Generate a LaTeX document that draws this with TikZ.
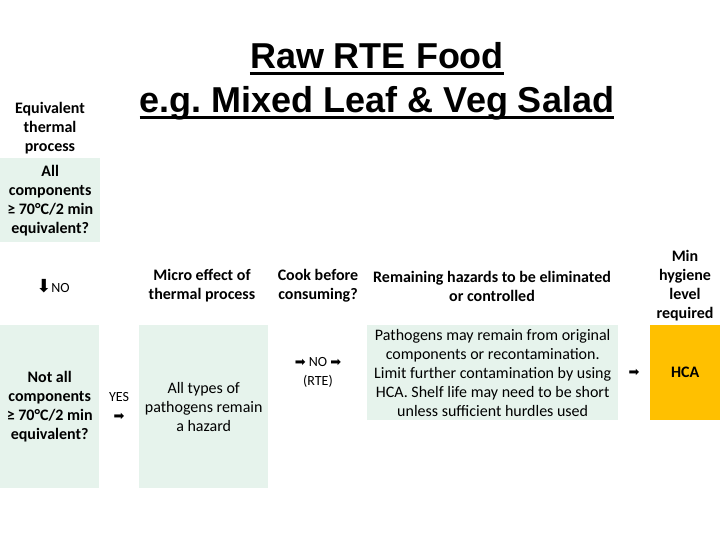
\documentclass[tikz,border=0pt]{standalone}
\usepackage{fontspec}
\setmainfont{Carlito}
\newfontfamily\titlefont{Liberation Sans}
\newfontfamily\symfont{DejaVu Sans}
\definecolor{boxgreen}{RGB}{230,243,236}
\definecolor{hcaorange}{RGB}{255,192,0}
\newcommand{\rarr}{{\symfont\fontsize{13}{13}\selectfont ➡}}
\frenchspacing
\begin{document}
\begin{tikzpicture}[x=1pt,y=-1pt,
  lbl/.style={font=\fontsize{16}{19}\selectfont\bfseries, align=center, inner sep=0pt},
  txt/.style={font=\fontsize{16}{19}\selectfont, align=center, inner sep=0pt},
  small/.style={font=\fontsize{14}{19}\selectfont, align=center, inner sep=0pt},
  title/.style={font=\titlefont\bfseries\fontsize{36}{45}\selectfont, inner sep=0pt, anchor=base},
  box/.style={fill=boxgreen, draw=none, inner sep=0pt, anchor=north west, align=center},
  ul/.style={line width=2.6pt}
]
\useasboundingbox (0,0) rectangle (720,540);

% title
\node[title] (t1) at (377,69) {Raw RTE Food};
\node[title] (t2) at (377,113) {e.g. Mixed Leaf \& Veg Salad};
\draw[ul] ([yshift=-4.5pt]t1.base west) -- ([yshift=-4.5pt]t1.base east);
\draw[ul] ([yshift=-4.5pt]t2.base west) -- ([yshift=-4.5pt]t2.base east);

% headers
\node[lbl] (eq) at (50,128) {Equivalent\\thermal\\process};
\node[box, minimum width=100, minimum height=84, font=\fontsize{16}{19}\selectfont\bfseries] (b1) at (0,158) {All\\components\\≥ 70°C/2 min\\equivalent?};
\node[small] (no1) at (53,286) {{\symfont\fontsize{18}{18}\selectfont ⬇}NO};
\node[lbl] (micro) at (202,286) {Micro effect of\\thermal process};
\node[lbl] (cook) at (318,286) {Cook before\\consuming?};
\node[lbl] (rem) at (492,286) {Remaining hazards to be eliminated\\or controlled};
\node[lbl] (min) at (685,286) {Min\\hygiene\\level\\required};

% row boxes
\node[box, minimum width=99, minimum height=163, font=\fontsize{16}{19}\selectfont\bfseries] (b2) at (0,325) {Not all\\components\\≥ 70°C/2 min\\equivalent?};
\node[small] (yes) at (119,406) {YES\\\rarr};
\node[box, minimum width=129, minimum height=163, font=\fontsize{16}{19}\selectfont] (b3) at (139,325) {All types of\\pathogens remain\\a hazard};
\node[small] (no2) at (318,372) {\rarr\ NO \rarr\\(RTE)};
\node[box, minimum width=251, minimum height=95, font=\fontsize{16}{19}\selectfont] (b4) at (367,325) {Pathogens may remain from original\\components or recontamination.\\Limit further contamination by using\\HCA. Shelf life may need to be short\\unless sufficient hurdles used};
\node[small] (arr) at (634,373) {\rarr};
\node[box, fill=hcaorange, minimum width=70, minimum height=95, font=\fontsize{16}{19}\selectfont\bfseries] (b5) at (650,325) {HCA};
\end{tikzpicture}
\end{document}
